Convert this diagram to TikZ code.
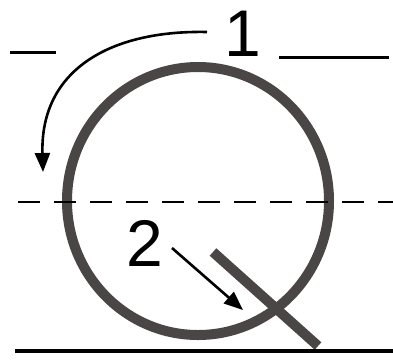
\documentclass[tikz,border=0pt]{standalone}
\usepackage{fontspec}
\setmainfont{Liberation Sans}
\usetikzlibrary{arrows.meta}

\definecolor{ringgray}{HTML}{4A4646}

\begin{document}
\begin{tikzpicture}[x=1pt, y=-1pt,
    lbl/.style={inner sep=0pt, font=\fontsize{66}{66}\selectfont},
    arr/.style={-{Triangle[length=19pt,width=15pt]}, line width=2.6pt},
    ring/.style={draw=ringgray, line width=10pt},
    rail/.style={line width=3pt}
]
\useasboundingbox (0,0) rectangle (393,360);

% wheel and rod
\draw[ring] (198,201) ellipse [x radius=131, y radius=134];
\draw[ring] (213,252) -- (318,346);

% levels
\draw[rail] (10,52) -- (56,52);
\draw[rail] (279,57) -- (389,57);
\draw[line width=1.8pt, dash pattern=on 22pt off 14pt] (18,202) -- (393,202);
\draw[line width=4.5pt] (15,351) -- (393,351);

% labels
\node[lbl] (one) at (243,34) {1};
\node[lbl] (two) at (145,243) {2};

\coordinate (a1) at (207,32);
\coordinate (b1) at (43,172);
\coordinate (a2) at (172,248);
\coordinate (b2) at (243,310);

\draw[arr] (a1) .. controls (110,30) and (40,70) .. (b1);
\draw[arr] (a2) -- (b2);
\end{tikzpicture}
\end{document}
